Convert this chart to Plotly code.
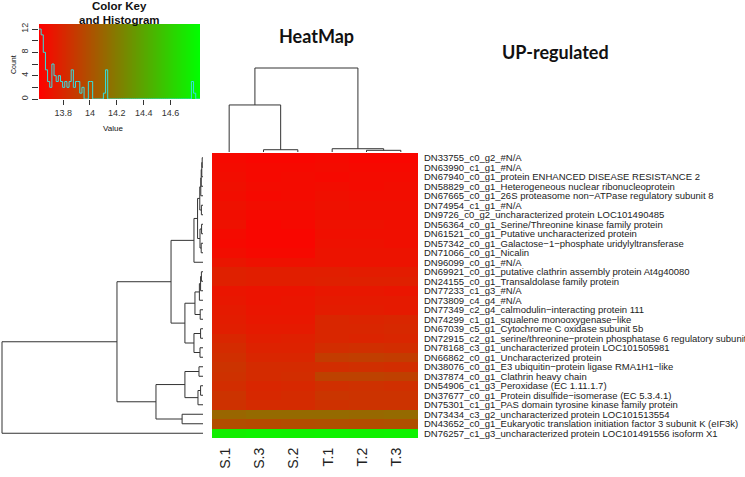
import numpy as np
import plotly.graph_objects as go

W, H = 745, 477
def px(x): return x / W
def py(y): return 1 - y / H

col_labels = ["S.1", "S.3", "S.2", "T.1", "T.2", "T.3"]

row_labels = [
    "DN33755_c0_g2_#N/A",
    "DN63990_c1_g1_#N/A",
    "DN67940_c0_g1_protein ENHANCED DISEASE RESISTANCE 2",
    "DN58829_c0_g1_Heterogeneous nuclear ribonucleoprotein",
    "DN67665_c0_g1_26S proteasome non\u2212ATPase regulatory subunit 8",
    "DN74954_c1_g1_#N/A",
    "DN9726_c0_g2_uncharacterized protein LOC101490485",
    "DN56364_c0_g1_Serine/Threonine kinase family protein",
    "DN61521_c0_g1_Putative uncharacterized protein",
    "DN57342_c0_g1_Galactose\u22121\u2212phosphate uridylyltransferase",
    "DN71066_c0_g1_Nicalin",
    "DN96099_c0_g1_#N/A",
    "DN69921_c0_g1_putative clathrin assembly protein At4g40080",
    "DN24155_c0_g1_Transaldolase family protein",
    "DN77233_c1_g3_#N/A",
    "DN73809_c4_g4_#N/A",
    "DN77349_c2_g4_calmodulin\u2212interacting protein 111",
    "DN74299_c1_g1_squalene monooxygenase\u2212like",
    "DN67039_c5_g1_Cytochrome C oxidase subunit 5b",
    "DN72915_c2_g1_serine/threonine\u2212protein phosphatase 6 regulatory subunit",
    "DN78168_c3_g1_uncharacterized protein LOC101505981",
    "DN66862_c0_g1_Uncharacterized protein",
    "DN38076_c0_g1_E3 ubiquitin\u2212protein ligase RMA1H1\u2212like",
    "DN37874_c0_g1_Clathrin heavy chain",
    "DN54906_c1_g3_Peroxidase (EC 1.11.1.7)",
    "DN37677_c0_g1_Protein disulfide\u2212isomerase (EC 5.3.4.1)",
    "DN75301_c1_g1_PAS domain tyrosine kinase family protein",
    "DN73434_c3_g2_uncharacterized protein LOC101513554",
    "DN43652_c0_g1_Eukaryotic translation initiation factor 3 subunit K (eIF3k)",
    "DN76257_c1_g3_uncharacterized protein LOC101491556 isoform X1",
]

# expression values (rows x columns S.1, S.3, S.2, T.1, T.2, T.3)
values = [
    [13.66, 13.65, 13.65, 13.66, 13.65, 13.65],
    [13.67, 13.66, 13.66, 13.67, 13.66, 13.66],
    [13.68, 13.66, 13.67, 13.66, 13.67, 13.67],
    [13.69, 13.67, 13.67, 13.68, 13.67, 13.68],
    [13.68, 13.66, 13.67, 13.69, 13.68, 13.68],
    [13.70, 13.68, 13.68, 13.70, 13.69, 13.69],
    [13.68, 13.66, 13.66, 13.68, 13.68, 13.68],
    [13.70, 13.65, 13.66, 13.70, 13.70, 13.69],
    [13.67, 13.65, 13.65, 13.69, 13.69, 13.69],
    [13.66, 13.65, 13.65, 13.70, 13.70, 13.69],
    [13.68, 13.66, 13.66, 13.71, 13.71, 13.71],
    [13.72, 13.70, 13.70, 13.71, 13.71, 13.71],
    [13.77, 13.76, 13.76, 13.76, 13.75, 13.75],
    [13.77, 13.76, 13.76, 13.77, 13.77, 13.77],
    [13.72, 13.71, 13.71, 13.73, 13.73, 13.72],
    [13.73, 13.71, 13.72, 13.74, 13.74, 13.74],
    [13.74, 13.72, 13.72, 13.75, 13.75, 13.74],
    [13.75, 13.73, 13.73, 13.80, 13.79, 13.80],
    [13.76, 13.74, 13.74, 13.80, 13.80, 13.81],
    [13.80, 13.76, 13.77, 13.80, 13.79, 13.80],
    [13.82, 13.78, 13.78, 13.83, 13.84, 13.83],
    [13.84, 13.80, 13.80, 13.90, 13.91, 13.90],
    [13.86, 13.82, 13.82, 13.83, 13.84, 13.83],
    [13.85, 13.82, 13.83, 13.93, 13.93, 13.92],
    [13.83, 13.80, 13.81, 13.84, 13.85, 13.84],
    [13.86, 13.81, 13.82, 13.87, 13.86, 13.86],
    [13.85, 13.82, 13.82, 13.85, 13.86, 13.86],
    [14.10, 14.12, 14.12, 14.12, 14.11, 14.12],
    [13.98, 13.97, 13.98, 13.99, 13.98, 13.99],
    [14.74, 14.76, 14.75, 14.76, 14.75, 14.76],
]

# dendrograms: (left, right, merge height); ints are leaf positions
col_tree = ((0, (1, 2, 0.027), 0.56), (3, (4, 5, 0.02), 0.039), 1.0)

row_T0 = (((((0, 1, 0.004), 2, 0.006), 3, 0.009), 4, 0.011), (5, 6, 0.008), 0.016)
row_T1 = ((7, 8, 0.007), (9, 10, 0.009), 0.015)
row_A = ((row_T0, row_T1, 0.027), 11, 0.045)
row_Bu = ((((12, 13, 0.008), 14, 0.012), 15, 0.018), (16, 17, 0.014), 0.04)
row_Bl = ((18, 19, 0.012), (20, 21, 0.015), 0.045)
row_upper = (row_A, (row_Bu, row_Bl, 0.09), 0.159)
row_lower = (((22, 23, 0.02), ((24, 25, 0.012), 26, 0.025), 0.09), (27, 28, 0.104), 0.234)
row_tree = ((row_upper, row_lower, 0.428), 29, 1.0)

# colour-key histogram (bin centres, counts)
hist_bins = [13.628, 13.644, 13.660, 13.676, 13.692, 13.708, 13.724, 13.740, 13.756,
             13.772, 13.788, 13.804, 13.820, 13.836, 13.852, 13.868, 13.884, 13.900,
             13.916, 13.932, 13.948, 13.996, 14.012, 14.108, 14.124, 14.764, 14.780]
hist_counts = [12, 11, 8, 5, 3, 2, 6, 4, 3, 4, 3, 2, 3, 2, 3, 5, 2, 3, 3, 1, 2, 3, 3, 1, 5, 3, 1]

key_min, key_max, bin_w = 13.62, 14.82, 0.016


def dendro_segments(node, pos_list, h_list):
    if isinstance(node, int):
        return float(node), 0.0
    l, r, h = node
    pl, hl = dendro_segments(l, pos_list, h_list)
    pr, hr = dendro_segments(r, pos_list, h_list)
    pos_list += [pl, pl, pr, pr, None]
    h_list += [hl, h, h, hr, None]
    return (pl + pr) / 2, h


cpos, ch = [], []
dendro_segments(col_tree, cpos, ch)
rpos, rh = [], []
dendro_segments(row_tree, rpos, rh)

fig = go.Figure()

red_green = [[0, "rgb(255,0,0)"], [1, "rgb(0,255,0)"]]

fig.add_trace(go.Heatmap(
    z=values, x=list(range(len(col_labels))), y=list(range(len(row_labels))),
    colorscale=red_green, zmin=key_min, zmax=key_max, showscale=False,
    xaxis="x", yaxis="y", hoverinfo="skip"))

line_col = "#333333"
fig.add_trace(go.Scatter(x=cpos, y=ch, mode="lines", line=dict(color=line_col, width=1),
                         xaxis="x2", yaxis="y2", hoverinfo="skip"))
fig.add_trace(go.Scatter(x=rh, y=rpos, mode="lines", line=dict(color=line_col, width=1),
                         xaxis="x3", yaxis="y3", hoverinfo="skip"))

# colour key gradient
n_key = 200
kx = np.linspace(key_min, key_max, n_key + 1)
kc = (kx[:-1] + kx[1:]) / 2
fig.add_trace(go.Heatmap(z=[kc.tolist()], x=kc.tolist(), y0=6.43, dy=12.86,
                         colorscale=red_green, zmin=key_min, zmax=key_max,
                         showscale=False, xaxis="x4", yaxis="y4", hoverinfo="skip"))

# histogram step line
nb = int(round((key_max - key_min) / bin_w))
edges = [key_min + i * bin_w for i in range(nb + 1)]
counts = [0] * nb
for c, n in zip(hist_bins, hist_counts):
    counts[int((c - key_min) / bin_w)] = n
fig.add_trace(go.Scatter(x=edges, y=counts + [counts[-1]], mode="lines",
                         line=dict(color="#33E0E0", width=1, shape="hv"),
                         xaxis="x4", yaxis="y4", hoverinfo="skip"))

hm_x = [px(212), px(418)]
hm_y = [py(438), py(153)]
font = "Liberation Sans, Arial, sans-serif"

fig.update_layout(
    width=W, height=H, margin=dict(l=0, r=0, t=0, b=0),
    paper_bgcolor="white", plot_bgcolor="white", showlegend=False,
    font=dict(family=font, color="#111111"),
    xaxis=dict(domain=hm_x, anchor="y", range=[-0.5, 5.5], tickvals=list(range(6)),
               ticktext=col_labels, tickangle=-90, tickfont=dict(size=14, color="#222"),
               ticks="", showgrid=False, zeroline=False, showline=False,
               ticklabelstandoff=6, ticklabelshift=-4, automargin=False),
    yaxis=dict(domain=hm_y, anchor="x", range=[29.5, -0.5], tickvals=list(range(30)),
               ticktext=row_labels, side="right", tickfont=dict(size=9.5, color="#222"),
               ticks="", showgrid=False, zeroline=False, showline=False,
               ticklabelstandoff=5, automargin=False),
    xaxis2=dict(domain=hm_x, anchor="y2", range=[-0.5, 5.5], visible=False),
    yaxis2=dict(domain=[py(152), py(152 - 84 * 1.05)], anchor="x2", range=[0, 1.05], visible=False),
    xaxis3=dict(domain=[0, px(203)], anchor="y3", range=[1.01, 0], visible=False),
    yaxis3=dict(domain=hm_y, anchor="x3", range=[29.5, -0.5], visible=False),
    xaxis4=dict(domain=[px(39), px(200)], anchor="y4", range=[key_min, key_max],
                tickvals=[13.8, 14.0, 14.2, 14.4, 14.6], ticktext=["13.8", "14", "14.2", "14.4", "14.6"],
                ticks="outside", ticklen=5, tickcolor="#333", tickfont=dict(size=9, color="#333"),
                showgrid=False, zeroline=False, showline=False, automargin=False),
    yaxis4=dict(domain=[py(99), py(24)], anchor="x4", range=[0, 12.86],
                tickvals=[0, 2, 4, 6, 8, 10, 12], ticktext=["0", "", "4", "", "8", "", "12"],
                tickangle=-90, ticks="outside", ticklen=6, tickcolor="#333",
                tickfont=dict(size=9, color="#333"), showgrid=False, zeroline=False,
                showline=False, automargin=False),
)

ann = [
    dict(text="<b>Color Key</b>", x=px(120), y=py(6), size=11.5, angle=0, fam=font),
    dict(text="<b>and Histogram</b>", x=px(119), y=py(20), size=11.5, angle=0, fam=font),
    dict(text="Count", x=px(13), y=py(64), size=7, angle=-90, fam=font),
    dict(text="Value", x=px(113), y=py(128), size=8, angle=0, fam=font),
    dict(text="<b>HeatMap</b>", x=px(316), y=py(36), size=18, angle=0, fam="Lato, Carlito, sans-serif"),
    dict(text="<b>UP-regulated</b>", x=px(555), y=py(52), size=18, angle=0, fam="Lato, Carlito, sans-serif"),
]
for a in ann:
    fig.add_annotation(text=a["text"], x=a["x"], y=a["y"], xref="paper", yref="paper",
                       showarrow=False, xanchor="center", yanchor="middle",
                       textangle=a["angle"], font=dict(size=a["size"], family=a["fam"], color="#111"))

fig.write_html("out.html", config={"displayModeBar": False},
               post_script="document.body.style.margin='0';document.body.style.padding='0';")
